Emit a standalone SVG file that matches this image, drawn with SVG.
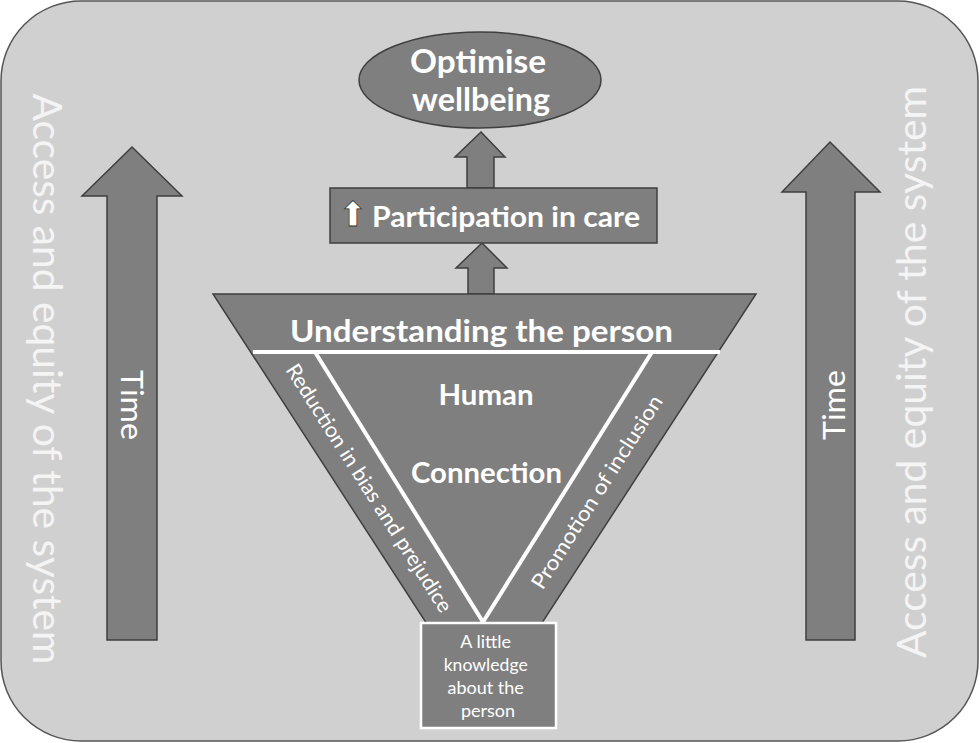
<svg xmlns="http://www.w3.org/2000/svg" width="980" height="743" viewBox="0 0 980 743">
<style>
.shape{fill:#7f7f7f;stroke:#3f3f3f;stroke-width:1.5}
.t{font-family:"Lato","Liberation Sans",sans-serif;fill:#ffffff}
.b{font-weight:700}
.side{font-family:"Lato","Liberation Sans",sans-serif;fill:#f4f4f4;font-weight:400;font-size:41px}
</style>
<rect x="1" y="1" width="977" height="740" rx="80" ry="80" fill="#d0d0d0" stroke="#555555" stroke-width="1.5"/>
<text class="side" transform="translate(33,379) rotate(90)" text-anchor="middle" textLength="571" lengthAdjust="spacingAndGlyphs">Access and equity of the system</text>
<text class="side" transform="translate(926,372) rotate(-90)" text-anchor="middle" textLength="572" lengthAdjust="spacingAndGlyphs">Access and equity of the system</text>
<g id="time-left">
<polygon class="shape" points="132,147 182,196 157,196 157,640 107,640 107,196 82,196"/>
<text class="t" font-size="31" transform="translate(121,405) rotate(90)" text-anchor="middle" textLength="70" lengthAdjust="spacingAndGlyphs">Time</text>
</g>
<g id="time-right">
<polygon class="shape" points="830,142 880,192 855,192 855,640 806,640 806,192 782,192"/>
<text class="t" font-size="31" transform="translate(845,405) rotate(-90)" text-anchor="middle" textLength="70" lengthAdjust="spacingAndGlyphs">Time</text>
</g>
<g id="connectors">
<polygon class="shape" points="481,132 505,157 494,157 494,188 467,188 467,157 455,157"/>
<polygon class="shape" points="482,243 507,268 494,268 494,294 468,294 468,268 456,268"/>
</g>
<g id="wellbeing">
<ellipse class="shape" cx="480" cy="80" rx="121" ry="48"/>
<text class="t b" font-size="32" x="478" y="73" text-anchor="middle" textLength="136" lengthAdjust="spacingAndGlyphs">Optimise</text>
<text class="t b" font-size="32" x="481" y="111" text-anchor="middle" textLength="138" lengthAdjust="spacingAndGlyphs">wellbeing</text>
</g>
<g id="participation">
<rect class="shape" x="330" y="188" width="327" height="55"/>
<text font-family="DejaVu Sans,sans-serif" font-size="34" x="353" y="226" text-anchor="middle" fill="#ffffff" stroke="#333333" stroke-width="0.8">⬆</text>
<text class="t b" font-size="29" x="372" y="227" textLength="268" lengthAdjust="spacingAndGlyphs">Participation in care</text>
</g>
<g id="understanding">
<polygon class="shape" points="213,294 756,294 484,712"/>
<line x1="253" y1="352" x2="720" y2="352" stroke="#ffffff" stroke-width="4"/>
<polyline points="315,352 483,622 652,352" fill="none" stroke="#ffffff" stroke-width="4"/>
<text class="t b" font-size="30" x="481.5" y="342" text-anchor="middle" textLength="383" lengthAdjust="spacingAndGlyphs">Understanding the person</text>
<text class="t b" font-size="28" x="486" y="405" text-anchor="middle" textLength="95" lengthAdjust="spacingAndGlyphs">Human</text>
<text class="t b" font-size="28" x="486.5" y="483" text-anchor="middle" textLength="151" lengthAdjust="spacingAndGlyphs">Connection</text>
<text class="t" font-size="21" transform="translate(363,492) rotate(57.5)" text-anchor="middle" textLength="290" lengthAdjust="spacingAndGlyphs">Reduction in bias and prejudice</text>
<text class="t" font-size="21" transform="translate(603,496) rotate(-57.5)" text-anchor="middle" textLength="225" lengthAdjust="spacingAndGlyphs">Promotion of inclusion</text>
</g>
<g id="knowledge">
<rect x="421" y="623" width="135" height="105" fill="#7f7f7f" stroke="#ffffff" stroke-width="2.5"/>
<text class="t" font-size="18" text-anchor="middle">
<tspan x="488" y="648">A little</tspan>
<tspan x="488" y="671" textLength="84" lengthAdjust="spacingAndGlyphs">knowledge</tspan>
<tspan x="488" y="694">about the</tspan>
<tspan x="488" y="717">person</tspan>
</text>
</g>
</svg>
